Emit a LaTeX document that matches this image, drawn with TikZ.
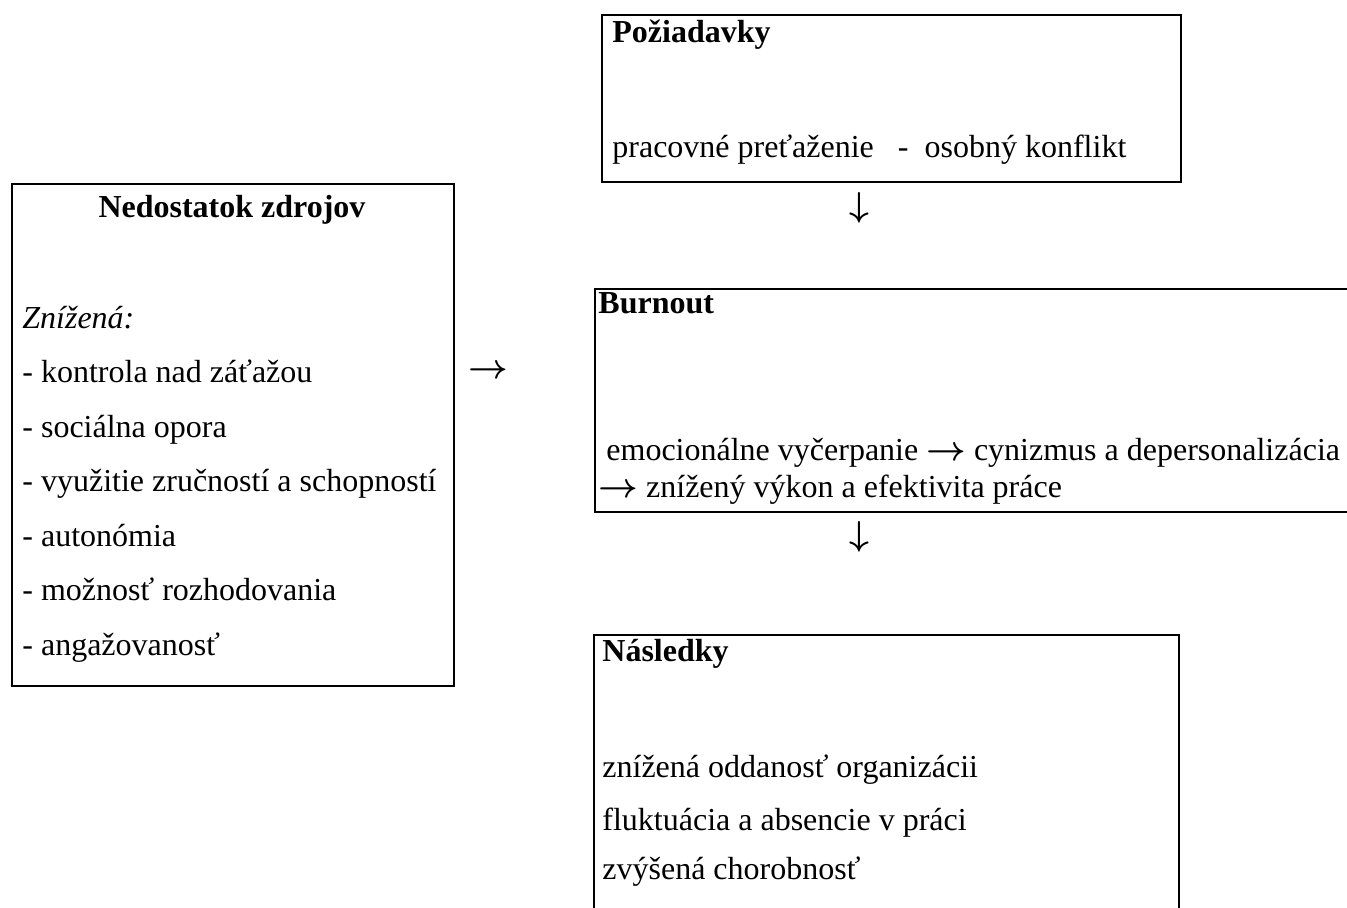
\documentclass[tikz,border=0pt]{standalone}
\usepackage{bm}
\usepackage{fontspec}
\setmainfont{Liberation Serif}
\usetikzlibrary{positioning}

\begin{document}
\begin{tikzpicture}[x=0.5pt, y=-0.5pt,
  every node/.style={font=\fontsize{16}{19}\selectfont, inner sep=0pt},
  frame/.style={draw, line width=1.1pt, anchor=north west, inner sep=0pt},
  txt/.style={anchor=base west},
  head/.style={txt, font=\fontsize{16}{19}\selectfont\bfseries},
  glyph/.style={anchor=center}]

\clip (0,0) rectangle (1347,907);

%% ── Požiadavky (top) ─────────────────────────────────────────────────────────
\node[frame, minimum width=289.5pt, minimum height=83.5pt] (req) at (601,14) {};
\node[head] (reqhead) at (612,42) {Požiadavky};
\node[txt] (reqbody) at (612,157) {pracovné preťaženie\ \ \ -\ \ osobný konflikt};

%% ── Nedostatok zdrojov (left) ────────────────────────────────────────────────
\node[frame, minimum width=221pt, minimum height=251pt] (lack) at (11,183) {};
\node[head, anchor=base] (lackhead) at (232,217) {Nedostatok zdrojov};
\node[txt, font=\fontsize{16}{19}\selectfont\itshape] (lackintro) at (22,328) {Znížená:};
\foreach \t [count=\i] in {kontrola nad záťažou, sociálna opora,
    využitie zručností a schopností, autonómia, možnosť rozhodovania,
    angažovanosť}{
  \node[txt] (lack\i) at (22,328+54.5*\i) {- \t};
}

%% ── Burnout (middle, runs off the right edge) ────────────────────────────────
\node[frame, minimum width=403pt, minimum height=111.5pt] (burn) at (594,288) {};
\node[head] (burnhead) at (598,313) {Burnout};
%% base anchor sits on the last line here
\node[txt, align=left, font=\fontsize{16}{18.5}\selectfont] (burnbody) at (598,497)
  {\ emocionálne vyčerpanie $\bm{\rightarrow}$ cynizmus a depersonalizácia\\
   $\bm{\rightarrow}$ znížený výkon a efektivita práce};

%% ── Následky (bottom, runs off the lower edge) ───────────────────────────────
\node[frame, minimum width=292.5pt, minimum height=158pt] (cons) at (593,634) {};
\node[head] (conshead) at (602,661) {Následky};
\node[txt] (cons1) at (602,777) {znížená oddanosť organizácii};
\node[txt] (cons2) at (602,830) {fluktuácia a absencie v práci};
\node[txt] (cons3) at (602,879) {zvýšená chorobnosť};

%% ── Arrow glyphs ─────────────────────────────────────────────────────────────
\node[glyph] (down1) at (859,208) {$\bm{\downarrow}$};
\node[glyph] (right1) at (488,372) {$\bm{\rightarrow}$};
\node[glyph] (down2) at (859,537) {$\bm{\downarrow}$};

\end{tikzpicture}
\end{document}
